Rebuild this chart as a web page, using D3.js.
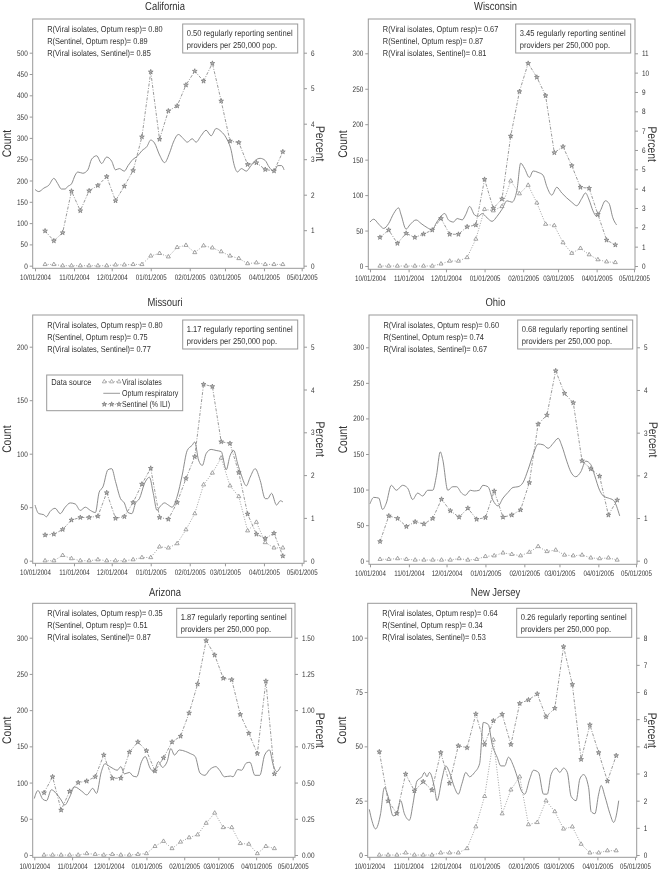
<!DOCTYPE html>
<html><head><meta charset="utf-8">
<script src="https://cdn.jsdelivr.net/npm/d3@7"></script>
<style>
body{margin:0;background:#fff}
svg{display:block;will-change:transform}
text{font-family:"Liberation Sans",Arial,sans-serif;fill:#333;text-rendering:geometricPrecision}
</style>
</head><body><svg id="c" width="661" height="873"></svg>
<script>
// ---------- DATA ----------
const weeks = ["2004-10-09","2004-10-16","2004-10-23","2004-10-30","2004-11-06","2004-11-13","2004-11-20","2004-11-27",
"2004-12-04","2004-12-11","2004-12-18","2004-12-25","2005-01-01","2005-01-08","2005-01-15","2005-01-22","2005-01-29",
"2005-02-05","2005-02-12","2005-02-19","2005-02-26","2005-03-05","2005-03-12","2005-03-19","2005-03-26","2005-04-02","2005-04-09","2005-04-16"];
const xTickLabels = ["10/01/2004","11/01/2004","12/01/2004","01/01/2005","02/01/2005","03/01/2005","04/01/2005","05/01/2005"];

// Sentinel (% ILI), plotted on the right (Percent) axis
const sentinelCA = [0.98,0.70,0.93,2.10,1.55,2.11,2.26,2.51,1.83,2.24,2.68,3.63,5.46,3.56,4.36,4.50,5.09,5.48,5.20,5.70,4.64,3.51,3.47,2.85,2.90,2.71,2.67,3.21];
const sentinelWI = [1.48,1.86,1.17,1.69,1.48,1.65,1.86,2.46,1.64,1.64,2.03,2.12,4.48,2.98,3.47,6.72,9.02,10.48,9.76,8.81,5.86,6.17,5.19,4.07,4.02,2.67,1.34,1.09];
const sentinelMO = [0.60,0.62,0.73,0.95,1.01,1.01,1.04,1.59,0.99,1.03,1.36,1.79,2.16,1.01,0.97,1.36,1.92,2.43,4.12,4.07,2.78,2.74,2.06,1.09,0.62,0.52,0.64,0.11];
const sentinelOH = [0.45,1.05,0.99,0.80,0.91,0.86,0.99,1.44,1.17,1.02,1.23,0.97,1.01,1.63,1.02,1.07,1.19,1.83,3.20,3.41,4.45,3.92,3.70,2.34,2.15,1.98,1.07,1.42];
const sentinelAZ = [0.43,0.54,0.31,0.44,0.50,0.51,0.54,0.69,0.53,0.53,0.71,0.78,0.72,0.58,0.67,0.78,0.82,0.98,1.18,1.48,1.38,1.22,1.21,0.97,0.84,0.70,1.20,0.56];
const sentinelNJ = [3.80,1.99,1.53,2.98,2.36,2.70,2.39,3.77,2.64,4.02,3.95,5.19,4.07,4.94,5.18,4.07,5.58,5.71,5.93,5.09,5.40,7.67,6.28,3.52,4.79,3.77,2.72,3.66];

// Viral isolates (count)
const viralCA = [3,3,0,0,0,0,0,0,2,2,3,3,23,29,21,43,48,31,47,42,33,23,17,5,7,3,3,3];
const viralWI = [0,0,0,0,0,0,0,3,7,7,12,38,80,78,84,120,102,114,89,59,57,33,18,25,16,9,6,5];
const viralMO = [0,0,5,2,0,0,1,0,0,0,1,3,3,13,12,16,29,44,71,82,96,70,60,28,36,17,12,12];
const viralOH = [2,2,3,2,1,1,1,1,1,3,1,2,6,7,11,9,7,12,20,13,15,8,7,8,4,3,4,1];
const viralAZ = [0,0,0,0,0,2,1,0,1,0,0,1,2,12,19,9,18,24,28,44,58,38,38,16,15,2,12,9];
const viralNJ = [0,0,0,1,0,0,0,1,1,1,3,13,27,53,19,30,36,14,15,25,20,12,13,5,1,1,2,2];

// Optum respiratory (count) : [days since 10/01/2004, count]
const optumCA = [[0,179],[3,174],[7,182],[11,189],[15,205],[18,193],[21,180],[24,180],[26,186],[29,192],[32,213],[34,220],[38,217],[42,225],[45,250],[49,258],[53,240],[57,255],[61,245],[64,225],[67,228],[71,222],[74,235],[78,250],[81,256],[85,270],[89,280],[92,295],[95,288],[99,260],[103,242],[107,265],[110,290],[114,308],[118,298],[121,290],[125,298],[128,290],[132,305],[136,318],[140,305],[144,322],[148,315],[152,300],[156,270],[158,240],[161,220],[164,228],[168,222],[171,232],[175,247],[179,252],[183,247],[186,232],[190,222],[193,235],[196,235],[198,225]];
const optumWI = [[0,62],[3,66],[7,59],[11,53],[15,60],[19,74],[23,82],[25,72],[29,52],[32,58],[37,65],[41,60],[46,54],[50,51],[53,60],[56,68],[60,74],[63,65],[67,62],[70,67],[74,65],[77,73],[80,84],[84,72],[87,70],[90,74],[94,68],[98,63],[102,70],[106,80],[110,92],[114,90],[118,107],[121,145],[124,138],[128,125],[131,134],[135,132],[139,128],[142,112],[146,100],[150,111],[154,103],[158,96],[162,90],[166,85],[170,95],[173,103],[176,93],[179,78],[182,70],[185,78],[189,92],[192,88],[195,68],[198,58]];
const optumMO = [[0,52],[3,44],[7,43],[9,41],[12,46],[16,49],[20,44],[24,50],[28,54],[32,53],[36,47],[40,50],[44,47],[48,45],[51,64],[54,69],[58,85],[61,86],[64,74],[68,58],[71,54],[74,45],[77,44],[80,54],[83,58],[87,72],[91,78],[94,63],[97,47],[99,50],[103,54],[106,52],[109,50],[113,60],[117,80],[121,103],[125,108],[127,111],[130,94],[133,89],[136,100],[140,104],[144,103],[148,102],[152,85],[155,98],[158,103],[161,91],[164,80],[168,70],[171,78],[175,86],[179,75],[183,58],[185,58],[188,63],[192,52],[195,56],[197,55]];
const optumOH = [[0,80],[3,89],[7,88],[10,72],[13,81],[17,106],[21,99],[26,106],[30,102],[34,86],[38,95],[42,91],[46,99],[50,99],[53,120],[56,153],[58,142],[62,99],[66,104],[69,104],[73,95],[76,92],[80,99],[83,98],[87,99],[90,106],[94,104],[98,85],[102,77],[106,88],[110,96],[114,103],[118,104],[122,110],[126,128],[130,149],[134,164],[138,163],[142,158],[146,165],[150,172],[153,161],[157,139],[160,125],[164,118],[168,125],[172,140],[176,135],[179,120],[183,99],[186,91],[190,88],[194,85],[199,63]];
const optumAZ = [[0,78],[3,89],[7,77],[10,75],[14,90],[18,85],[22,76],[25,69],[29,80],[33,94],[39,88],[43,83],[48,92],[51,85],[55,115],[58,126],[62,122],[65,119],[68,117],[71,122],[74,112],[78,114],[81,109],[84,108],[88,129],[91,136],[95,120],[98,115],[102,129],[105,121],[109,129],[112,147],[115,138],[119,145],[124,143],[128,140],[132,136],[136,113],[140,110],[144,118],[149,122],[152,117],[156,108],[161,109],[163,108],[167,118],[170,117],[174,127],[177,128],[181,110],[185,110],[189,138],[193,145],[196,124],[199,115],[202,122]];
const optumNJ = [[0,21],[2,16],[5,12],[9,19],[12,31],[15,27],[19,18],[22,19],[25,25],[28,19],[32,16],[35,24],[38,34],[42,36],[44,38],[46,36],[48,38],[52,31],[54,25],[58,35],[61,41],[64,38],[68,31],[71,28],[74,33],[77,38],[80,36],[84,38],[88,42],[91,61],[95,60],[98,51],[102,45],[105,41],[108,41],[111,45],[115,41],[118,36],[121,30],[124,28],[128,35],[131,39],[135,38],[139,28],[142,28],[145,37],[149,40],[152,38],[155,40],[158,38],[161,27],[165,25],[168,35],[171,37],[175,31],[177,20],[180,19],[183,28],[185,32],[188,27],[192,19],[195,15],[197,18],[199,25]];

// Axis ticks
const countTicksCA = [0,50,100,150,200,250,300,350,400,450,500];
const countTicks300 = [0,50,100,150,200,250,300];
const countTicksMO = [0,50,100,150,200];
const countTicksNJ = [0,25,50,75,100];
const pctTicksCA = [0,1,2,3,4,5,6];
const pctTicksWI = [0,1,2,3,4,5,6,7,8,9,10,11];
const pctTicks5 = [0,1,2,3,4,5];
const pctTicksAZ = [0,0.25,0.5,0.75,1.0,1.25,1.5];
const pctTicksNJ = [0,1,2,3,4,5,6,7,8];

const states = ["California","Wisconsin","Missouri","Ohio","Arizona","New Jersey"];
const rViralOptum = ["0.80","0.67","0.80","0.60","0.35","0.64"];
const rSentOptum  = ["0.89","0.87","0.75","0.74","0.51","0.34"];
const rViralSent  = ["0.85","0.81","0.77","0.67","0.87","0.53"];
const providers   = ["0.50","3.45","1.17","0.68","1.87","0.26"];
const legendLabels = ["Viral isolates","Optum respiratory","Sentinel (% ILI)"];

// ---------- LAYOUT ----------
const layout = [
 {L:32.7,T:19,R:304,B:268.3,y0:265.7,yT:52.7,x0:35,x1:301.7,cx:165,titleY:6,pctX:320,bx:182.7},
 {L:368.3,T:19,R:635,B:269.3,y0:266,yT:53.3,x0:370,x1:634,cx:495.5,titleY:6,pctX:652.7,bx:515.7},
 {L:32.7,T:315,R:304,B:563.3,y0:560.7,yT:346.7,x0:35,x1:301.7,cx:165,titleY:301.7,pctX:320,bx:182.7},
 {L:369,T:315,R:637,B:564.3,y0:560.7,yT:347.3,x0:370,x1:636,cx:495.5,titleY:301.7,pctX:653,bx:517.7},
 {L:32.7,T:603.3,R:295,B:857.3,y0:855,yT:637.7,x0:34.3,x1:292.7,cx:165,titleY:591.7,pctX:320.7,bx:176.7},
 {L:367.7,T:603.3,R:636.7,B:857.3,y0:855,yT:637.7,x0:369.3,x1:635,cx:495.5,titleY:591.7,pctX:652.7,bx:516.7}
];
const series = [
 {s:sentinelCA,v:viralCA,o:optumCA,ct:countTicksCA,pt:pctTicksCA,fmt:d3.format("d")},
 {s:sentinelWI,v:viralWI,o:optumWI,ct:countTicks300,pt:pctTicksWI,fmt:d3.format("d")},
 {s:sentinelMO,v:viralMO,o:optumMO,ct:countTicksMO,pt:pctTicks5,fmt:d3.format("d")},
 {s:sentinelOH,v:viralOH,o:optumOH,ct:countTicks300,pt:pctTicks5,fmt:d3.format("d")},
 {s:sentinelAZ,v:viralAZ,o:optumAZ,ct:countTicks300,pt:pctTicksAZ,fmt:d3.format(".2f")},
 {s:sentinelNJ,v:viralNJ,o:optumNJ,ct:countTicksNJ,pt:pctTicksNJ,fmt:d3.format("d")}
];

const svg = d3.select("#c");
const parse = d3.timeParse("%Y-%m-%d");
const origin = parse("2004-10-01");
const weekDates = weeks.map(parse);
const tickDates = xTickLabels.map(d3.timeParse("%m/%d/%Y"));
const FRAME = "#999", LINE = "#7f7f7f";

const tri = d3.symbol().type(d3.symbolTriangle).size(7);
const star = d3.symbol().type(d3.symbolStar).size(7);

layout.forEach((p, i) => {
  const d = series[i];
  const g = svg.append("g");
  const x = d3.scaleTime().domain([tickDates[0], tickDates[tickDates.length-1]]).range([p.x0, p.x1]);
  const y = d3.scaleLinear().domain([0, d.ct[d.ct.length-1]]).range([p.y0, p.yT]);
  const yp = d3.scaleLinear().domain([0, d.pt[d.pt.length-1]]).range([p.y0, p.yT]);

  g.append("text").attr("x", p.cx).attr("y", p.titleY + 4).attr("text-anchor","middle")
    .attr("data-k","0.82").style("font-size","11.5px").text(states[i]);

  g.append("rect").attr("x",p.L).attr("y",p.T).attr("width",p.R-p.L).attr("height",p.B-p.T)
    .attr("fill","none").attr("stroke",FRAME).attr("stroke-width",1);

  const ax = (k) => (sel) => { sel.select(".domain").remove(); sel.selectAll("line").attr("stroke",FRAME);
    sel.selectAll("text").style("font-size","8px").attr("fill","#333").attr("data-k",k).style("font-family",null); };
  g.append("g").attr("transform",`translate(${p.L},0)`)
    .call(d3.axisLeft(y).tickValues(d.ct).tickSize(3).tickPadding(2).tickFormat(d3.format("d"))).call(ax("0.8"));
  g.append("g").attr("transform",`translate(${p.R},0)`)
    .call(d3.axisRight(yp).tickValues(d.pt).tickSize(3).tickPadding(4).tickFormat(d.fmt)).call(ax("0.8"));
  g.append("g").attr("transform",`translate(0,${p.B})`)
    .call(d3.axisBottom(x).tickValues(tickDates).tickSize(3).tickPadding(3).tickFormat((t,k)=>xTickLabels[k])).call(ax("0.77"));

  const my = (p.T + p.B) / 2;
  g.append("text").attr("transform",`translate(${p.L-26},${my}) rotate(-90)`).attr("text-anchor","middle")
    .attr("dy","0.35em").attr("data-k","0.82").style("font-size","12.5px").text("Count");
  g.append("text").attr("transform",`translate(${p.pctX},${my}) rotate(90)`).attr("text-anchor","middle")
    .attr("dy","0.35em").attr("data-k","0.82").style("font-size","12.5px").text("Percent");

  // providers box
  const bw = 115, by = p.T + 5, bh = 29;
  g.append("rect").attr("x",p.bx).attr("y",by).attr("width",bw).attr("height",bh)
    .attr("fill","#fff").attr("stroke",FRAME);
  g.append("text").attr("x",p.bx+4).attr("y",by+9).attr("dy","0.35em").attr("data-k","0.88").style("font-size","8.6px")
    .text(`${providers[i]} regularly reporting sentinel`);
  g.append("text").attr("x",p.bx+4).attr("y",by+20.7).attr("dy","0.35em").attr("data-k","0.88").style("font-size","8.6px")
    .text("providers per 250,000 pop.");

  // correlation notes
  const notes = [`R(Viral isolates, Optum resp)= ${rViralOptum[i]}`,
                 `R(Sentinel, Optum resp)= ${rSentOptum[i]}`,
                 `R(Viral isolates, Sentinel)= ${rViralSent[i]}`];
  notes.forEach((t,k)=> g.append("text").attr("x",p.L+14.5).attr("y",p.T+10+k*11.8).attr("dy","0.35em")
    .attr("data-k","0.86").style("font-size","8.6px").text(t));

  g.append("path").datum(d.o)
    .attr("d", d3.line().x(e => x(d3.timeDay.offset(origin, e[0]))).y(e => y(e[1])).curve(d3.curveMonotoneX))
    .attr("fill","none").attr("stroke",LINE).attr("stroke-width",0.9);

  g.append("path").datum(d.v)
    .attr("d", d3.line().x((e,k)=>x(weekDates[k])).y(e=>y(e)))
    .attr("fill","none").attr("stroke","#8a8a8a").attr("stroke-width",0.8).attr("stroke-dasharray","1,1.6");
  g.selectAll(".tv").data(d.v).join("path")
    .attr("transform",(e,k)=>`translate(${x(weekDates[k])},${y(e)})`).attr("d",tri())
    .attr("fill","#fff").attr("stroke","#808080").attr("stroke-width",0.7);

  g.append("path").datum(d.s)
    .attr("d", d3.line().x((e,k)=>x(weekDates[k])).y(e=>yp(e)))
    .attr("fill","none").attr("stroke","#808080").attr("stroke-width",0.8).attr("stroke-dasharray","3,1.5,1,1.5");
  g.selectAll(".ts").data(d.s).join("path")
    .attr("transform",(e,k)=>`translate(${x(weekDates[k])},${yp(e)})`).attr("d",star())
    .attr("fill","#bbb").attr("stroke","#666").attr("stroke-width",0.6);

  if (i === 2) {
    const lx = p.L + 14, ly = p.T + 60, lw = 136, lh = 35.7;
    const lg = g.append("g");
    lg.append("rect").attr("x",lx).attr("y",ly).attr("width",lw).attr("height",lh)
      .attr("fill","#fff").attr("stroke",FRAME);
    lg.append("text").attr("x",lx+4.5).attr("y",ly+6.7).attr("dy","0.35em").attr("data-k","0.87").style("font-size","8.6px").text("Data source");
    const rows = [ly+6.7, ly+18.3, ly+29.3];
    const sx0 = lx + 56.6, sx1 = lx + 73.3;
    legendLabels.forEach((t,k)=>{
      const ln = lg.append("line").attr("x1",sx0).attr("x2",sx1).attr("y1",rows[k]).attr("y2",rows[k])
        .attr("stroke","#808080").attr("stroke-width",0.8);
      if (k===0) ln.attr("stroke-dasharray","1,1.6");
      if (k===2) ln.attr("stroke-dasharray","3,1.5,1,1.5");
      if (k!==1) [sx0+1, (sx0+sx1)/2, sx1-1].forEach(mx => lg.append("path")
          .attr("transform",`translate(${mx},${rows[k]})`).attr("d", k===0 ? tri() : star())
          .attr("fill", k===0 ? "#fff" : "#bbb").attr("stroke", k===0 ? "#808080" : "#666").attr("stroke-width",0.6));
      lg.append("text").attr("x",sx1+2).attr("y",rows[k]).attr("dy","0.35em").attr("data-k","0.82").style("font-size","8.6px").text(t);
    });
  }
});

// condense text horizontally around its anchor (narrow sans look of the original)
svg.selectAll("text").each(function(){
  const k = +(this.getAttribute("data-k") || 0.85);
  const ax = +(this.getAttribute("x") || 0), ay = +(this.getAttribute("y") || 0);
  const prev = this.getAttribute("transform") || "";
  this.setAttribute("transform", `${prev} translate(${ax},${ay}) scale(${k},1) translate(${-ax},${-ay})`.trim());
});
</script>
</body></html>
